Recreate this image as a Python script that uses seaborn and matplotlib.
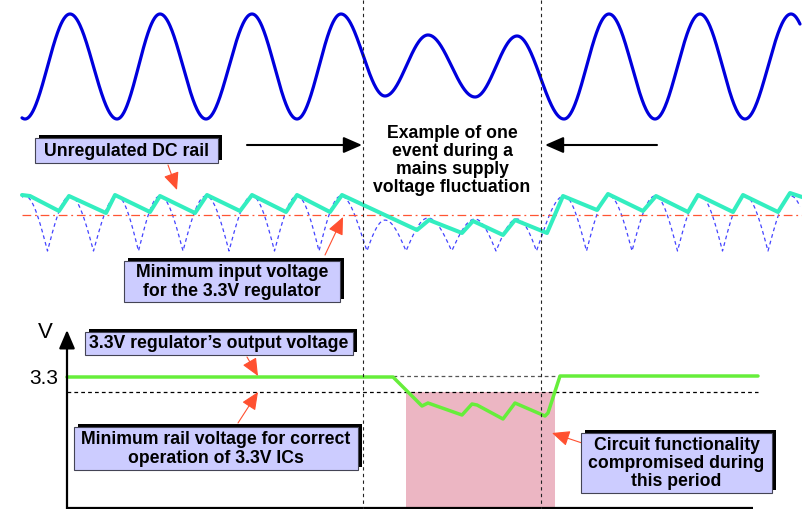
import numpy as np
import pandas as pd
import matplotlib
matplotlib.use("Agg")
import matplotlib.pyplot as plt
from matplotlib.patches import Rectangle
import seaborn as sns

# mains waveform extrema (x, y in picture pixels)
mains_x = [-20, 25, 70, 117, 160, 206, 252, 297, 341, 385, 428, 475, 517, 564, 609, 655, 700, 745, 791, 836]
mains_y = [14, 119, 14, 119, 14, 119, 14, 119, 14, 96, 35, 97, 36, 119, 14, 119, 14, 119, 14, 119]
mains_mid = 66.5
mains_amp = 52.5

# full-wave rectified level (zero and peak)
rect_zero = 251
rect_peak = 196

# smoothed DC rail vertices
teal_x = [22, 30, 59, 69, 106, 115, 150, 160, 195, 207, 240, 252, 286, 297, 330, 342,
          417, 429, 462, 473, 503, 515, 547, 563, 597, 608, 643, 656, 688, 698, 733, 743,
          778, 790, 802]
teal_y = [195, 196, 211, 196, 213, 195, 212, 196, 213, 195, 211, 195, 212, 195, 212, 195,
          230, 220, 233, 221, 235, 220, 233, 196, 210, 194, 211, 196, 212, 195, 212, 195,
          212, 193, 197]
min_input_level = 215

# regulator output
out_x = [67, 393, 422, 428, 462, 472, 477, 503, 515, 545, 548, 560, 758]
out_y = [377, 377, 406, 403, 415, 404, 405, 419, 403, 416, 413, 376, 376]
reg_level = 376
min_rail_level = 392
fail_start, fail_end = 406, 555

event_lines = [363, 541]

labels = [
    ("unreg", (35, 138, 218, 163), ["Unregulated DC rail"]),
    ("mininput", (124, 261, 340, 302), ["Minimum input voltage", "for the 3.3V regulator"]),
    ("regout", (85, 332, 353, 355), ["3.3V regulator\u2019s output voltage"]),
    ("minrail", (74, 427, 358, 470), ["Minimum rail voltage for correct", "operation of 3.3V ICs"]),
    ("circuit", (581, 433, 772, 493), ["Circuit functionality", "compromised during", "this period"]),
]
event_text = ["Example of one", "event during a", "mains supply", "voltage fluctuation"]

red_arrows = [((168, 165), (177, 190)), ((325, 255), (343, 217)),
              ((247, 357), (258, 376)), ((238, 423), (258, 392)),
              ((582, 443), (552, 433))]

sns.set_theme(style="white")
plt.rcParams['font.family'] = ['Liberation Sans', 'DejaVu Sans']
plt.rcParams['text.color'] = 'black'

fig = plt.figure(figsize=(8.02, 5.09), dpi=100)
ax = fig.add_axes([0, 0, 1, 1])
ax.set_xlim(0, 802)
ax.set_ylim(509, 0)
ax.axis('off')

# mains sine drawn as half-cosine segments between extrema
mx = np.array(mains_x, dtype=float)
my = np.array(mains_y, dtype=float)
xs = np.arange(22, 800.5, 0.5)
idx = np.searchsorted(mx, xs, side='right') - 1
t = (xs - mx[idx]) / (mx[idx + 1] - mx[idx])
ys = my[idx] + (my[idx + 1] - my[idx]) * (1 - np.cos(np.pi * t)) / 2
rect = rect_zero - (rect_zero - rect_peak) * np.abs(ys - mains_mid) / mains_amp
wave = pd.DataFrame({"x": xs, "mains": ys, "rect": rect})

sns.lineplot(data=wave, x="x", y="mains", ax=ax, color="#0000dd", lw=2.3, estimator=None, sort=False)
sns.lineplot(data=wave, x="x", y="rect", ax=ax, color="#4444ff", lw=0.9, linestyle=(0, (3, 2.5)),
             estimator=None, sort=False)
ax.axhline(min_input_level, xmin=22 / 802, xmax=1, color="#ff5533", lw=0.9, linestyle=(0, (7, 3, 1.5, 3)))
teal = pd.DataFrame({"x": teal_x, "y": teal_y})
sns.lineplot(data=teal, x="x", y="y", ax=ax, color="#33eec0", lw=2.9, estimator=None, sort=False)

# bottom section
ax.add_patch(Rectangle((fail_start, min_rail_level), fail_end - fail_start, 508 - min_rail_level,
                       facecolor="#ecb6c3", edgecolor="none", zorder=0))
ax.plot([393, 560], [reg_level, reg_level], color="#555555", lw=0.9, linestyle=(0, (3, 2.5)))
ax.plot([67, 758], [min_rail_level, min_rail_level], color="black", lw=0.9, linestyle=(0, (3, 2.5)))
out = pd.DataFrame({"x": out_x, "y": out_y})
sns.lineplot(data=out, x="x", y="y", ax=ax, color="#66ee3a", lw=2.5, estimator=None, sort=False)

for xv in event_lines:
    ax.plot([xv, xv], [0, 509], color="#222222", lw=0.8, linestyle=(0, (3, 3)), zorder=3)

# axes of the bottom plot
ax.plot([67, 753], [508, 508], color="black", lw=1.6, solid_capstyle='butt')
ax.annotate("", xy=(67, 330), xytext=(67, 509),
            arrowprops=dict(arrowstyle="-|>,head_length=0.7,head_width=0.3", color="black",
                            lw=1.6, mutation_scale=16, shrinkA=0, shrinkB=0))
ax.text(45.5, 333, "V", fontsize=16, ha="center", va="center", color="black")
ax.text(43.5, 378, "3.3", fontsize=15, ha="center", va="center", color="black")

# event arrows and text
for (xa, xb) in [(247, 362), (657, 545)]:
    ax.annotate("", xy=(xb, 145), xytext=(xa, 145),
                arrowprops=dict(arrowstyle="-|>,head_length=0.8,head_width=0.35", color="black",
                                lw=1.5, mutation_scale=14, shrinkA=0, shrinkB=0))
for i, line in enumerate(event_text):
    ax.text(452, 133 + i * 18.3, line, fontsize=12.7, fontweight="bold", ha="center", va="center",
            color="black")

# red pointer arrows
for (p0, p1) in red_arrows:
    ax.annotate("", xy=p1, xytext=p0,
                arrowprops=dict(arrowstyle="-|>,head_length=0.9,head_width=0.4", color="#ff5030",
                                lw=0.8, mutation_scale=12, shrinkA=0, shrinkB=0), zorder=6)

# label boxes with drop shadow
for name, (x0, y0, x1, y1), lines in labels:
    ax.add_patch(Rectangle((x0 + 4, y0 - 3.5), x1 - x0, y1 - y0, facecolor="black",
                           edgecolor="none", zorder=7))
    ax.add_patch(Rectangle((x0, y0), x1 - x0, y1 - y0, facecolor="#ccccff",
                           edgecolor="#444455", lw=0.8, zorder=8))
    cx = (x0 + x1) / 2
    cy = (y0 + y1) / 2
    n = len(lines)
    for i, line in enumerate(lines):
        ax.text(cx, cy + (i - (n - 1) / 2) * 18.2 + 0.5, line, fontsize=12.7, fontweight="bold",
                ha="center", va="center", zorder=9, color="black")

fig.savefig("out.png", dpi=100)
